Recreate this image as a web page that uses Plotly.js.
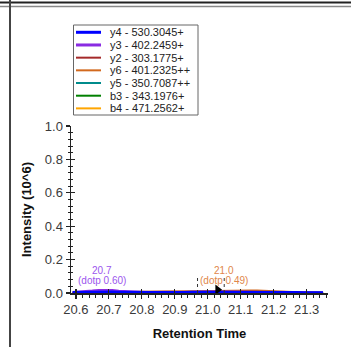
<!DOCTYPE html>
<html><head><meta charset="utf-8">
<script src="https://cdn.plot.ly/plotly-3.0.1.min.js"></script>
<style>html,body{margin:0;padding:0;background:#fff}#chart{width:351px;height:347px}</style>
</head><body><div id="chart"></div>
<script>
// ---- data ----
const times = [20.59,20.61,20.63,20.65,20.67,20.69,20.71,20.73,20.75,20.77,20.79,20.81,20.83,20.85,20.87,20.89,20.91,20.93,20.95,20.97,20.99,21.01,21.03,21.05,21.07,21.09,21.11,21.13,21.15,21.17,21.19,21.21,21.23,21.25,21.27,21.29,21.31,21.33,21.35];
const seriesNames = ["y4 - 530.3045+","y3 - 402.2459+","y2 - 303.1775+","y6 - 401.2325++","y5 - 350.7087++","b3 - 343.1976+","b4 - 471.2562+"];
const y4 = [0.005,0.006,0.006,0.007,0.008,0.008,0.007,0.006,0.005,0.005,0.004,0.004,0.005,0.005,0.004,0.004,0.005,0.005,0.006,0.006,0.007,0.008,0.008,0.007,0.007,0.006,0.006,0.006,0.005,0.005,0.005,0.004,0.004,0.004,0.004,0.003,0.003,0.003,0.003];
const y3 = [0.004,0.006,0.009,0.013,0.017,0.018,0.016,0.012,0.009,0.007,0.005,0.004,0.004,0.005,0.004,0.004,0.003,0.003,0.004,0.005,0.006,0.007,0.008,0.007,0.006,0.005,0.005,0.004,0.004,0.003,0.003,0.003,0.003,0.003,0.002,0.002,0.002,0.002,0.002];
const y2 = [0.003,0.003,0.004,0.004,0.005,0.005,0.006,0.006,0.007,0.008,0.009,0.009,0.010,0.010,0.009,0.009,0.009,0.010,0.010,0.010,0.009,0.009,0.010,0.011,0.012,0.012,0.011,0.010,0.009,0.007,0.006,0.005,0.004,0.004,0.003,0.003,0.003,0.002,0.002];
const y6 = [0.002,0.002,0.003,0.003,0.004,0.004,0.005,0.006,0.007,0.008,0.009,0.010,0.010,0.011,0.011,0.010,0.010,0.011,0.011,0.012,0.012,0.013,0.014,0.015,0.016,0.017,0.018,0.017,0.016,0.014,0.012,0.009,0.007,0.005,0.004,0.003,0.003,0.002,0.002];
const y5 = [0.001,0.001,0.002,0.002,0.002,0.002,0.002,0.003,0.003,0.003,0.003,0.003,0.003,0.004,0.004,0.004,0.004,0.004,0.005,0.005,0.005,0.006,0.006,0.007,0.007,0.008,0.009,0.010,0.010,0.010,0.009,0.008,0.007,0.006,0.005,0.004,0.003,0.002,0.002];
const b3 = [0.002,0.002,0.002,0.002,0.003,0.003,0.003,0.003,0.003,0.003,0.003,0.003,0.003,0.003,0.003,0.004,0.004,0.004,0.004,0.004,0.004,0.005,0.005,0.005,0.005,0.006,0.006,0.006,0.007,0.007,0.008,0.008,0.008,0.007,0.007,0.006,0.005,0.004,0.003];
const b4 = [0.001,0.001,0.001,0.002,0.002,0.002,0.002,0.002,0.002,0.002,0.002,0.002,0.002,0.002,0.002,0.002,0.002,0.002,0.003,0.003,0.003,0.003,0.003,0.003,0.003,0.003,0.003,0.003,0.003,0.003,0.003,0.002,0.002,0.002,0.002,0.002,0.002,0.001,0.001];
const seriesColors = ["#0000FF","#8A2BE2","#A52A2A","#D2691E","#008B8B","#008000","#FFA500"];
const seriesWidths = [2.5,2.5,1.5,1.5,1.5,1.5,1.5];
const seriesValues = [y4,y3,y2,y6,y5,b3,b4];
const boundaryTimes = [20.969, 21.05];
const boundaryHeight = [0, 0.095];
const markerTime = [21.03];
const markerValue = [0.02];
const peakTimes = [20.68, 21.05];
const peakRtLabels = ["20.7", "21.0"];
const peakDotpLabels = ["(dotp 0.60)", "(dotp 0.49)"];
const peakLabelColors = ["#9B55EE", "#E0864A"];
const xTickVals = [20.6,20.7,20.8,20.9,21.0,21.1,21.2,21.3];
const yTickVals = [0.0,0.2,0.4,0.6,0.8,1.0];

// ---- layout geometry ----
const W=351,H=347,L=71,R=328,T=126,B=293;
const px = x => (x-L)/(R-L);
const py = y => (B-y)/(B-T);
const FONT = "Liberation Sans, Arial, sans-serif";

const traces = [];
for (let i = seriesValues.length-1; i >= 0; i--) {
  traces.push({x: times, y: seriesValues[i], type:'scatter', mode:'lines', name: seriesNames[i],
    line:{color: seriesColors[i], width: seriesWidths[i]}, showlegend:false, hoverinfo:'skip'});
}
boundaryTimes.forEach(t => traces.push({x:[t,t], y: boundaryHeight, type:'scatter', mode:'lines',
  line:{color:'#333', width:1, dash:'dot'}, showlegend:false, hoverinfo:'skip'}));
traces.push({x: markerTime, y: markerValue, type:'scatter', mode:'markers',
  marker:{symbol:'triangle-right', size:9, color:'#000'}, showlegend:false, hoverinfo:'skip'});

const shapes = [];
const annotations = [];
// frame lines
shapes.push({type:'line', xref:'paper', yref:'paper', x0:px(0), x1:px(W), y0:py(2.5), y1:py(2.5), line:{color:'#222', width:2}});
shapes.push({type:'line', xref:'paper', yref:'paper', x0:px(0), x1:px(W), y0:py(6.5), y1:py(6.5), line:{color:'#888', width:1.5}});
shapes.push({type:'line', xref:'paper', yref:'paper', x0:px(10), x1:px(10), y0:py(0), y1:py(H), line:{color:'#444', width:2}});
// custom legend
shapes.push({type:'rect', xref:'paper', yref:'paper', x0:px(73.5), x1:px(198), y0:py(115), y1:py(25), line:{color:'#666', width:1}, fillcolor:'#fff'});
seriesNames.forEach((n,i) => {
  const yc = 32.3 + i*12.68;
  shapes.push({type:'line', xref:'paper', yref:'paper', x0:px(76), x1:px(101), y0:py(yc), y1:py(yc), line:{color:seriesColors[i], width:seriesWidths[i]+0.5}});
  annotations.push({xref:'paper', yref:'paper', x:px(108), y:py(yc), xanchor:'left', yanchor:'middle', text:n, showarrow:false,
    font:{family:FONT, size:11, color:'#222'}});
});
// peak labels
peakTimes.forEach((t,i) => {
  annotations.push({x:t, y:0.1335, xref:'x', yref:'y', text:peakRtLabels[i], showarrow:false, xanchor:'center', yanchor:'middle',
    font:{family:FONT, size:10, color:peakLabelColors[i]}});
  annotations.push({x:t, y:0.072, xref:'x', yref:'y', text:peakDotpLabels[i], showarrow:false, xanchor:'center', yanchor:'middle',
    font:{family:FONT, size:10, color:peakLabelColors[i]}});
});

const axCommon = {showgrid:false, zeroline:false, showline:true, linecolor:'#222', linewidth:1.5, tickcolor:'#222', tickwidth:1.2};
const layout = {
  width:W, height:H, margin:{l:L, r:W-R, t:T, b:H-B}, paper_bgcolor:'#fff', plot_bgcolor:'#fff',
  showlegend:false,
  xaxis: Object.assign({}, axCommon, {range:[20.585, 21.365], tickvals:xTickVals, tickformat:'.1f', ticks:'outside', ticklen:4,
    tickfont:{family:FONT, size:13, color:'#3a3a3a'},
    minor:{dtick:0.02, ticks:'outside', ticklen:3, tickcolor:'#222', tickwidth:1},
    title:{text:'Retention Time', font:{family:FONT, size:13, color:'#111', weight:'bold'}, standoff:13}}),
  yaxis: Object.assign({}, axCommon, {range:[0, 1.0], tickvals:yTickVals, tickformat:'.1f', ticks:'outside', ticklen:4,
    tickfont:{family:FONT, size:13, color:'#3a3a3a'},
    minor:{dtick:0.04, ticks:'outside', ticklen:2, tickcolor:'#222', tickwidth:1},
    title:{text:'Intensity (10^6)', font:{family:FONT, size:13, color:'#111', weight:'bold'}, standoff:10}}),
  xaxis2: {overlaying:'x', anchor:'y', range:[20.585, 21.365], tickvals:xTickVals, ticks:'inside', ticklen:4, tickcolor:'#222', tickwidth:1.2,
    showticklabels:false, showgrid:false, zeroline:false, showline:false, side:'bottom'},
  yaxis2: {overlaying:'y', anchor:'x', range:[0, 1.0], tickvals:yTickVals, ticks:'inside', ticklen:4, tickcolor:'#222', tickwidth:1.2,
    minor:{dtick:0.04, ticks:'inside', ticklen:2, tickcolor:'#222', tickwidth:1},
    showticklabels:false, showgrid:false, zeroline:false, showline:false, side:'left'},
  shapes: shapes, annotations: annotations
};
traces.push({x:[20.6], y:[0], xaxis:'x2', yaxis:'y2', type:'scatter', mode:'markers', marker:{opacity:0}, showlegend:false, hoverinfo:'skip'});
Plotly.newPlot('chart', traces, layout, {displayModeBar:false, staticPlot:true});
</script></body></html>
